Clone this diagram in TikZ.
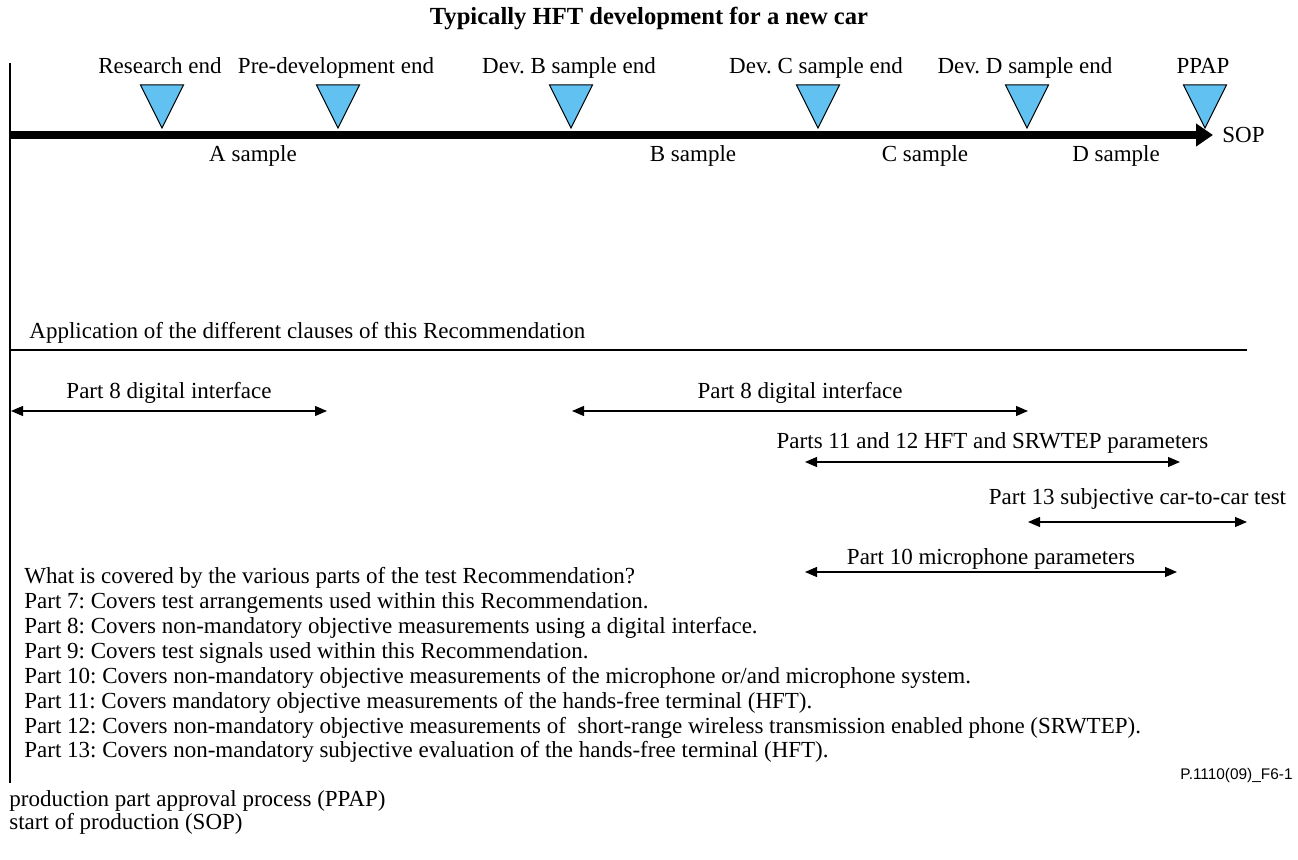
\documentclass[tikz,border=0pt]{standalone}
\usepackage{fontspec}
\setmainfont{Liberation Serif}
\newfontfamily\figsans{Liberation Sans}
\usetikzlibrary{arrows.meta,positioning}
\definecolor{msblue}{RGB}{97,193,241}
\tikzset{
  lbl/.style={font=\fontsize{11.5}{12.5}\selectfont\frenchspacing, inner sep=0pt, anchor=base},
  lbll/.style={lbl, anchor=base west},
  span/.style={line width=0.6pt, {Triangle[length=6pt,width=5pt]}-{Triangle[length=6pt,width=5pt]}},
  frame/.style={line width=0.6pt},
  mstone/.style={draw=black, line width=0.5pt, fill=msblue},
}

\begin{document}
\begin{tikzpicture}[x=0.5pt,y=-0.5pt]
\useasboundingbox (0,0) rectangle (1298,860);
% Titel
\node[lbl,font=\fontsize{12.3}{13}\selectfont\bfseries] (title) at (649,25) {Typically HFT development for a new car};
% Rahmen links
\coordinate (frTop) at (10,63);
\coordinate (frBot) at (10,783);
\draw[frame] (frTop) -- (frBot);
% Zeitstrahl
\coordinate (tlStart) at (10,135);
\coordinate (tlEnd) at (1213,135);
\draw[line width=4pt,-{Triangle[length=8.5pt,width=11pt]}] (tlStart) -- (tlEnd);
\node[lbll] (sop) at (1222,143) {SOP};
% Meilensteine
\foreach \tipx/\txt [count=\i] in {162/Research end, 338/Pre-development end, 571/Dev. B sample end, 818/Dev. C sample end, 1027/Dev. D sample end, 1205/PPAP}{
  \draw[mstone] (\tipx,128) -- ++(-21.5,-43) -- ++(43,0) -- cycle;
  \node[lbl] (ms\i) at (\tipx-2,74) {\txt};
}
\foreach \sx/\txt [count=\i] in {253/A sample, 693/B sample, 925/C sample, 1116/D sample}{
  \node[lbl] (smp\i) at (\sx,162) {\txt};
}
% Anwendung der Teile
\node[lbll] (appl) at (29,339) {Application of the different clauses of this Recommendation};
\coordinate (secL) at (10,350);
\coordinate (secR) at (1247,350);
\draw[frame] (secL) -- (secR);
\foreach \xa/\xb/\ya/\yb/\txt [count=\k] in {11/327/411/399/Part 8 digital interface, 572/1028/411/399/Part 8 digital interface, 805/1180/462/449/Parts 11 and 12 HFT and SRWTEP parameters, 1028/1247/522/505/Part 13 subjective car-to-car test, 805/1177/572/565/Part 10 microphone parameters}{
  \coordinate (sp\k l) at (\xa,\ya);
  \coordinate (sp\k r) at (\xb,\ya);
  \draw[span] (sp\k l) -- (sp\k r);
  \node[lbl] (sp\k t) at ({(\xa+\xb)/2},\yb) {\txt};
}
% Liste der Teile
\foreach \txt [count=\j from 0] in {{What is covered by the various parts of the test Recommendation?},
  {Part 7: Covers test arrangements used within this Recommendation.},
  {Part 8: Covers non-mandatory objective measurements using a digital interface.},
  {Part 9: Covers test signals used within this Recommendation.},
  {Part 10: Covers non-mandatory objective measurements of the microphone or/and microphone system.},
  {Part 11: Covers mandatory objective measurements of the hands-free terminal (HFT).},
  {Part 12: Covers non-mandatory objective measurements of~ short-range wireless transmission enabled phone (SRWTEP).},
  {Part 13: Covers non-mandatory subjective evaluation of the hands-free terminal (HFT).}}{
  \node[lbll] (cov\j) at (24,584+24.85*\j) {\txt};
}
\node[font=\figsans\fontsize{7.7}{9}\selectfont, anchor=base east, inner sep=0pt] (figid) at (1293,780) {P.1110(09)\_F6-1};
% Abkuerzungen
\node[lbll] (ppap) at (9,807) {production part approval process (PPAP)};
\node[lbll] (sopdef) at (9,830) {start of production (SOP)};
\end{tikzpicture}
\end{document}
